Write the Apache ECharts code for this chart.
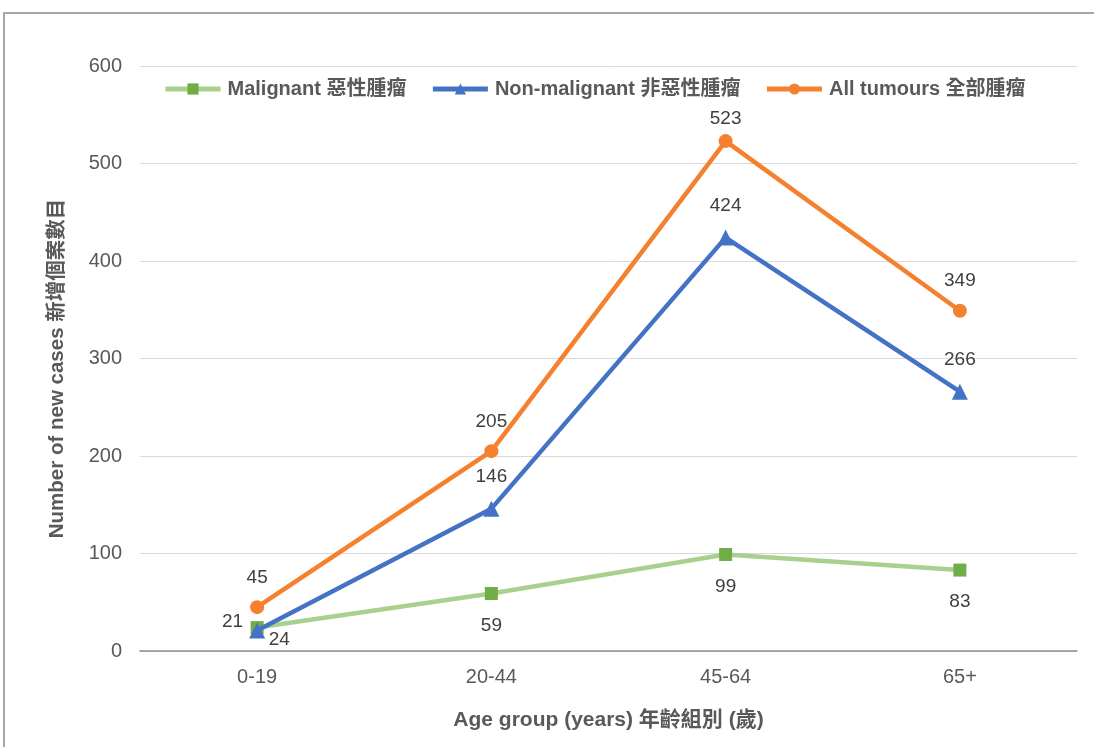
<!DOCTYPE html>
<html><head><meta charset="utf-8">
<script src="https://cdn.jsdelivr.net/npm/echarts@6/dist/echarts.min.js"></script>
<style>html,body{margin:0;padding:0;background:#fff}#c{width:1094px;height:747px}</style>
</head><body><div id="c"></div>
<script>
const categories = ['0-19','20-44','45-64','65+'];
const malignant = [24, 59, 99, 83];
const nonMalignant = [21, 146, 424, 266];
const allTumours = [45, 205, 523, 349];
const seriesNames = ['Malignant 惡性腫瘤','Non-malignant 非惡性腫瘤','All tumours 全部腫瘤'];

const chart = echarts.init(document.getElementById('c'), null, {renderer:'canvas'});
const font = '"Liberation Sans", Arial, "Noto Sans CJK TC", sans-serif';
const lbl = {show:true, fontSize:19, color:'#404040', fontFamily:font};
chart.setOption({
  animation:false,
  backgroundColor:'#fff',
  graphic:[{type:'rect', shape:{x:4,y:13,width:1200,height:800}, style:{fill:'none', stroke:'#a6a6a6', lineWidth:2}, z:-1}],
  legend:{top:74, left:158, itemGap:24, itemWidth:55, itemHeight:14,
    lineStyle:{width:5},
    textStyle:{fontSize:20, fontWeight:'bold', color:'#595959', fontFamily:font, padding:[0,0,0,2]},
    data:seriesNames},
  grid:{left:140, right:17, top:66, bottom:96},
  xAxis:{type:'category', data:categories, boundaryGap:true,
    name:'Age group (years) 年齡組別 (歲)', nameLocation:'middle', nameGap:59,
    nameTextStyle:{fontSize:21, fontWeight:'bold', color:'#595959', fontFamily:font},
    axisLine:{lineStyle:{color:'#8c8c8c', width:1.5}}, axisTick:{show:false},
    axisLabel:{fontSize:20, color:'#595959', margin:16, fontFamily:font}},
  yAxis:{type:'value', min:0, max:600, interval:100,
    name:'Number of new cases 新增個案數目', nameLocation:'middle', nameGap:72,
    nameTextStyle:{fontSize:20.5, fontWeight:'bold', color:'#595959', fontFamily:font, padding:[0,20,0,0]},
    axisLine:{show:false}, axisTick:{show:false},
    splitLine:{lineStyle:{color:'#d9d9d9', width:1}},
    axisLabel:{fontSize:20, color:'#595959', margin:18, fontFamily:font}},
  series:[
    {name:seriesNames[0], type:'line',
     data:malignant.map((v,i)=> i===0 ? {value:v, label:{position:'right', distance:5, offset:[0,12]}} : v),
     symbol:'rect', symbolSize:13,
     lineStyle:{color:'#A9D18E', width:4.5}, itemStyle:{color:'#70AD47'},
     label:Object.assign({}, lbl, {position:'bottom', distance:16}), z:2},
    {name:seriesNames[1], type:'line',
     data:nonMalignant.map((v,i)=> i===0 ? {value:v, label:{position:'left', distance:6, offset:[0,-9]}} : v),
     symbol:'triangle', symbolSize:16,
     lineStyle:{color:'#4472C4', width:4.5}, itemStyle:{color:'#4472C4'},
     label:Object.assign({}, lbl, {position:'top', distance:14}), z:3},
    {name:seriesNames[2], type:'line',
     data:allTumours.map((v,i)=> i===2 ? {value:v, label:{offset:[0,7]}} : v),
     symbol:'circle', symbolSize:14,
     lineStyle:{color:'#F4812F', width:4.5}, itemStyle:{color:'#F4812F'},
     label:Object.assign({}, lbl, {position:'top', distance:13}), z:4}
  ]
});
</script></body></html>
